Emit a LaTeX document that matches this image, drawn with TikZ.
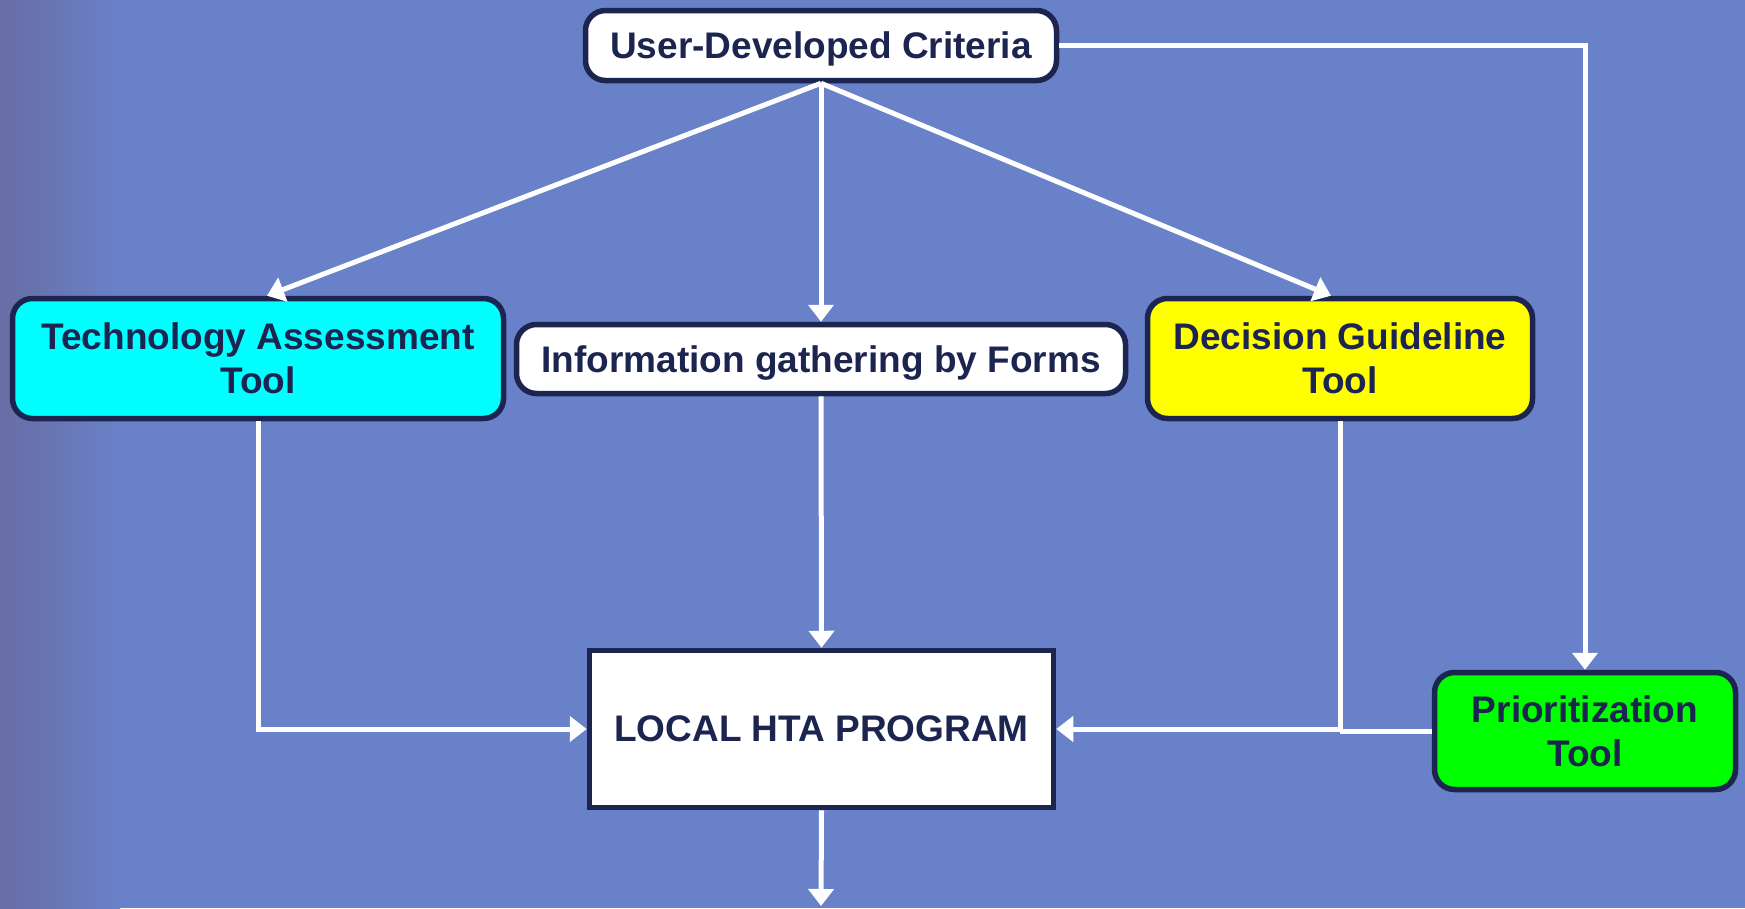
\documentclass[tikz,border=0pt]{standalone}
\usepackage{fontspec}
\setmainfont{Liberation Sans}
\usetikzlibrary{arrows.meta,calc}
\definecolor{bgmain}{RGB}{105,129,200}
\definecolor{bgleft}{RGB}{104,109,164}
\definecolor{navy}{RGB}{27,37,80}
\definecolor{cyanbox}{RGB}{0,255,255}
\definecolor{yellowbox}{RGB}{255,255,0}
\definecolor{greenbox}{RGB}{0,255,0}
\tikzset{
  box/.style={draw=navy, line width=5.5pt, rounded corners=20pt, fill=white, inner sep=0pt,
    align=center, text=navy, font=\fontsize{37}{44}\selectfont\bfseries},
  flow/.style={draw=white, line width=5pt, -{Triangle[width=25pt,length=17pt]}},
  plain/.style={draw=white, line width=5pt}
}
\begin{document}
\begin{tikzpicture}[x=1pt,y=-1pt]
\useasboundingbox (0,0) rectangle (1745,908);
\fill[bgmain] (0,0) rectangle (1745,908);
\shade[left color=bgleft, right color=bgmain] (0,0) rectangle (120,908);

\node[box, text depth=0pt, minimum width=471pt, minimum height=70pt] (udc) at (821,45.5) {User-Developed Criteria};
\node[box, fill=cyanbox, minimum width=491pt, minimum height=120pt] (tat) at (258,358.5) {Technology Assessment\\Tool};
\node[box, text depth=0pt, minimum width=609pt, minimum height=69pt] (info) at (821,359) {Information gathering by Forms};
\node[box, fill=yellowbox, minimum width=385pt, minimum height=120pt] (dgt) at (1340,358.5) {Decision Guideline\\Tool};
\node[box, fill=greenbox, minimum width=301pt, minimum height=117pt] (pt) at (1585,731) {Prioritization\\Tool};
\node[box, rounded corners=0pt, minimum width=464pt, minimum height=157pt] (local) at (821.5,729) {LOCAL HTA PROGRAM};
\coordinate (out) at (821,906);

\draw[flow] (udc.south) -- ([xshift=9pt]tat.north);
\draw[flow] (udc.south) -- (info.north);
\draw[flow] (udc.south) -- ([xshift=-9pt]dgt.north);
\draw[flow] (udc.east) -| (pt.north);
\draw[flow] (tat.south) |- (local.west);
\draw[flow] (info.south) -- (local.north);
\draw[flow] (dgt.south) |- (local.east);
\draw[plain] (pt.west) -- (pt.west -| dgt.south);
\draw[flow] (local.south) -- (out);
\end{tikzpicture}
\end{document}
